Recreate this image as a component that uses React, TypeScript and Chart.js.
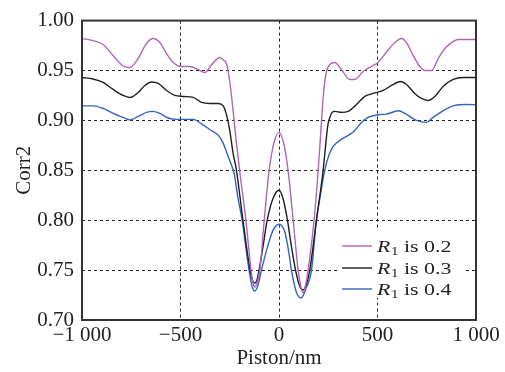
import { useEffect, useRef } from "react";
import { Chart, registerables } from "chart.js";

Chart.register(...registerables);

const FONT = "'Liberation Serif', 'Times New Roman', Times, serif";

const seriesNames = ["0.2", "0.3", "0.4"];
const seriesColors = ["#b464b4", "#1e1e1e", "#3264be"];

const xTicks = [-1000, -500, 0, 500, 1000];
const xTickLabels = ["\u22121 000", "\u2212500", "0", "500", "1 000"];
const yTicks = [0.7, 0.75, 0.8, 0.85, 0.9, 0.95, 1.0];
const yTickLabels = ["0.70", "0.75", "0.80", "0.85", "0.90", "0.95", "1.00"];

const xTitle = "Piston/nm";
const yTitle = "Corr2";

// R1 = 0.2 (purple)
const pistonR02 = [-1000, -944, -893, -842, -791, -757, -715, -673, -639, -605, -571, -537, -495, -453, -411, -377, -343, -300, -280, -267, -250, -233, -216, -200, -168, -142, -132, -123, -112, -97, -75, -50, -25, 0, 25, 46, 72, 97, 110, 122, 134, 148, 178, 199, 216, 225, 240, 258, 283, 317, 359, 385, 427, 478, 503, 546, 588, 622, 647, 681, 715, 740, 774, 808, 842, 876, 909, 952, 1000];
const corrR02 = [0.982, 0.98, 0.976, 0.965, 0.9545, 0.953, 0.962, 0.977, 0.982, 0.978, 0.967, 0.958, 0.954, 0.954, 0.951, 0.948, 0.9555, 0.963, 0.96, 0.957, 0.939, 0.91, 0.877, 0.85, 0.8, 0.75, 0.737, 0.733, 0.737, 0.75, 0.8, 0.85, 0.878, 0.888, 0.876, 0.85, 0.8, 0.75, 0.734, 0.727, 0.734, 0.75, 0.8, 0.85, 0.9, 0.925, 0.948, 0.956, 0.958, 0.951, 0.941, 0.941, 0.949, 0.955, 0.958, 0.9686, 0.978, 0.982, 0.978, 0.965, 0.954, 0.95, 0.95, 0.962, 0.972, 0.978, 0.981, 0.981, 0.981];

// R1 = 0.3 (black)
const pistonR03 = [-1000, -944, -893, -842, -791, -757, -715, -681, -647, -613, -571, -529, -486, -435, -393, -350, -308, -283, -267, -250, -233, -216, -183, -147, -135, -123, -112, -101, -80, -60, -30, 0, 20, 43, 62, 84, 105, 122, 138, 156, 190, 224, 241, 249, 258, 270, 283, 317, 351, 393, 436, 478, 528, 571, 617, 647, 689, 723, 757, 791, 833, 884, 935, 1000];
const corrR03 = [0.943, 0.9415, 0.938, 0.931, 0.925, 0.923, 0.928, 0.935, 0.9385, 0.937, 0.93, 0.925, 0.924, 0.923, 0.918, 0.917, 0.917, 0.9145, 0.906, 0.89, 0.867, 0.85, 0.8, 0.75, 0.74, 0.737, 0.74, 0.75, 0.775, 0.8, 0.822, 0.83, 0.822, 0.8, 0.775, 0.75, 0.734, 0.73, 0.735, 0.75, 0.8, 0.85, 0.8835, 0.8965, 0.903, 0.908, 0.909, 0.908, 0.909, 0.916, 0.924, 0.927, 0.93, 0.935, 0.939, 0.936, 0.927, 0.922, 0.92, 0.924, 0.934, 0.941, 0.943, 0.943];

// R1 = 0.4 (blue)
const pistonR04 = [-1000, -944, -893, -842, -791, -757, -715, -673, -639, -605, -563, -520, -478, -435, -393, -350, -308, -283, -262, -245, -228, -208, -187, -170, -152, -137, -123, -108, -89, -60, -30, 0, 30, 48, 63, 88, 112, 138, 165, 190, 210, 232, 255, 275, 290, 309, 351, 385, 419, 452, 503, 546, 605, 647, 698, 749, 782, 833, 884, 952, 1000];
const corrR04 = [0.9146, 0.9146, 0.912, 0.907, 0.903, 0.9005, 0.904, 0.908, 0.909, 0.907, 0.9024, 0.901, 0.901, 0.901, 0.8965, 0.8906, 0.885, 0.877, 0.866, 0.857, 0.847, 0.822, 0.8, 0.775, 0.75, 0.734, 0.729, 0.734, 0.75, 0.772, 0.79, 0.796, 0.788, 0.77, 0.75, 0.728, 0.722, 0.732, 0.75, 0.8, 0.825, 0.85, 0.866, 0.874, 0.877, 0.88, 0.885, 0.89, 0.898, 0.903, 0.9057, 0.9063, 0.9096, 0.906, 0.9, 0.898, 0.903, 0.9096, 0.9146, 0.916, 0.9156];

export default function App() {
  const ref = useRef<HTMLCanvasElement>(null);

  useEffect(() => {
    const canvas = ref.current;
    if (!canvas) return;
    let chart: Chart | null = null;
    let cancelled = false;

    const series = [
      [pistonR02, corrR02],
      [pistonR03, corrR03],
      [pistonR04, corrR04],
    ];
    const datasets = series.map(([xs, ys], i) => ({
      label: "R1 is " + seriesNames[i],
      data: xs.map((x, j) => ({ x, y: ys[j] })),
      borderColor: seriesColors[i],
      backgroundColor: seriesColors[i],
      borderWidth: 1.4,
      pointRadius: 0,
      fill: false,
      cubicInterpolationMode: "monotone" as const,
      tension: 0.4,
    }));

    const overlay = {
      id: "overlay",
      afterDatasetsDraw(ch: any) {
        const { ctx, chartArea: a } = ch;
        ctx.save();
        ctx.fillStyle = "#ffffff";
        ctx.fillRect(a.right - 139, a.bottom - 89, 126, 67);
        const rows = [a.bottom - 74, a.bottom - 52, a.bottom - 31];
        rows.forEach((ry: number, i: number) => {
          ctx.strokeStyle = seriesColors[i];
          ctx.lineWidth = 1.4;
          ctx.setLineDash([]);
          ctx.beginPath();
          ctx.moveTo(a.right - 134, ry);
          ctx.lineTo(a.right - 104, ry);
          ctx.stroke();
          ctx.save();
          ctx.translate(a.right - 99, ry + 5.5);
          ctx.scale(1.25, 1);
          ctx.fillStyle = "#222";
          ctx.textAlign = "left";
          ctx.textBaseline = "alphabetic";
          ctx.font = `italic 17.5px ${FONT}`;
          ctx.fillText("R", 0, 0);
          let w = ctx.measureText("R").width + 0.5;
          ctx.font = `12px ${FONT}`;
          ctx.fillText("1", w, 3.5);
          w += ctx.measureText("1").width;
          ctx.font = `17.5px ${FONT}`;
          ctx.fillText(" is " + seriesNames[i], w, 0);
          ctx.restore();
        });
        ctx.strokeStyle = "#333";
        ctx.lineWidth = 2;
        ctx.setLineDash([]);
        ctx.strokeRect(a.left, a.top, a.right - a.left, a.bottom - a.top);
        ctx.restore();
      },
    };

    const isEdgeX = (v: number) => Math.abs(v - xTicks[0]) < 1e-9 || Math.abs(v - xTicks[xTicks.length - 1]) < 1e-9;
    const isEdgeY = (v: number) => Math.abs(v - yTicks[0]) < 1e-9 || Math.abs(v - yTicks[yTicks.length - 1]) < 1e-9;

    const build = () => {
      if (cancelled) return;
      chart = new Chart(canvas, {
        type: "line",
        data: { datasets },
        options: {
          animation: false,
          responsive: false,
          layout: { padding: { top: 15, right: 29, left: 0, bottom: 0 } },
          plugins: {
            legend: { display: false },
            tooltip: { enabled: false },
          },
          scales: {
            x: {
              type: "linear",
              min: xTicks[0],
              max: xTicks[xTicks.length - 1],
              afterBuildTicks: (s: any) => {
                s.ticks = xTicks.map((v) => ({ value: v }));
              },
              afterFit: (s: any) => {
                s.height = 52;
              },
              ticks: {
                autoSkip: false,
                maxRotation: 0,
                padding: 3,
                color: "#222",
                font: { family: FONT, size: 21 },
                callback: (v: any) => {
                  const k = xTicks.indexOf(Number(v));
                  return k >= 0 ? xTickLabels[k] : "";
                },
              },
              grid: {
                drawTicks: false,
                lineWidth: 1,
                color: (c: any) => (c.tick && isEdgeX(c.tick.value) ? "rgba(0,0,0,0)" : "#222"),
              },
              border: { display: false, dash: [3, 3] },
              title: {
                display: true,
                text: xTitle,
                color: "#222",
                font: { family: FONT, size: 21 },
                padding: { top: 0, bottom: 1 },
              },
            },
            y: {
              type: "linear",
              min: yTicks[0],
              max: yTicks[yTicks.length - 1],
              afterBuildTicks: (s: any) => {
                s.ticks = yTicks.map((v) => ({ value: v }));
              },
              afterFit: (s: any) => {
                s.width = 82;
              },
              ticks: {
                autoSkip: false,
                padding: 8,
                color: "#222",
                font: { family: FONT, size: 21 },
                callback: (_v: any, i: number) => yTickLabels[i] ?? "",
              },
              grid: {
                drawTicks: false,
                lineWidth: 1,
                color: (c: any) => (c.tick && isEdgeY(c.tick.value) ? "rgba(0,0,0,0)" : "#222"),
              },
              border: { display: false, dash: [3, 3] },
              title: {
                display: true,
                text: yTitle,
                color: "#222",
                font: { family: FONT, size: 21 },
                padding: { top: 12, bottom: 0 },
              },
            },
          },
        } as any,
        plugins: [overlay],
      });
    };

    const fonts: any = (document as any).fonts;
    if (fonts && fonts.load) {
      Promise.all([
        fonts.load(`21px "Liberation Serif"`),
        fonts.load(`italic 17.5px "Liberation Serif"`),
      ])
        .catch(() => undefined)
        .then(build);
    } else {
      build();
    }

    return () => {
      cancelled = true;
      if (chart) chart.destroy();
    };
  }, []);

  return (
    <div style={{ position: "absolute", left: 0, top: 0, width: 505, height: 372, background: "#fff" }}>
      <span style={{ position: "absolute", left: -9999, fontFamily: "'Liberation Serif'" }}>0</span>
      <span style={{ position: "absolute", left: -9999, fontFamily: "'Liberation Serif'", fontStyle: "italic" }}>R</span>
      <canvas ref={ref} width={505} height={372} style={{ display: "block" }} />
    </div>
  );
}
